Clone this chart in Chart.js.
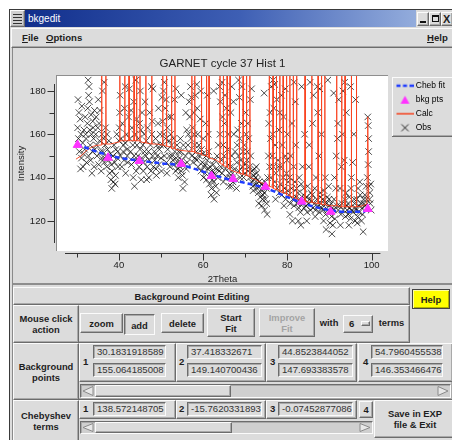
<!DOCTYPE html>
<html>
<head>
<meta charset="utf-8">
<script src="https://cdn.jsdelivr.net/npm/chart.js@4"></script>
<style>
  html, body { margin: 0; padding: 0; }
  body { width: 452px; height: 440px; overflow: hidden; position: relative; background: #fff;
         font-family: "Liberation Sans", Arial, sans-serif; color: #1e1e1e; }
  .abs { position: absolute; box-sizing: border-box; }
  .r { position: absolute; box-sizing: border-box; border: 1px solid; border-color: #fbfbfb #6c6c6c #6c6c6c #fbfbfb;
       box-shadow: inset -1px -1px #a9a9a9; }
  .s { position: absolute; box-sizing: border-box; border: 1px solid; border-color: #6c6c6c #fbfbfb #fbfbfb #6c6c6c;
       box-shadow: inset 1px 1px #a9a9a9; }
  .b { font-weight: bold; font-size: 9.4px; display: flex; align-items: center; justify-content: center;
       text-align: center; line-height: 11px; }
  .ent { font-size: 9.6px; line-height: 12px; padding-left: 3px; white-space: nowrap; overflow: hidden; color: #333; }
  .num { position: absolute; font-weight: bold; font-size: 9.6px; }
  .trough { background: #cfcfcf; }
</style>
</head>
<body>
<!-- window frame -->
<div class="abs" style="left:9px;top:9px;width:443px;height:431px;background:#dcdcdc;border-left:1px solid #3a3a3a;border-top:1px solid #3a3a3a;"></div>
<div class="abs" style="left:12px;top:48px;width:1px;height:392px;background:#8a8a8a;"></div>

<!-- title bar -->
<div class="abs" style="left:25px;top:10px;width:391px;height:17px;background:linear-gradient(to right,#112f8c,#3e5fb4 55%,#93acdc);"></div>
<div class="r" style="left:10px;top:10px;width:15px;height:17px;background:#cfcfcf;">
  <div class="abs" style="left:2px;top:3px;width:9px;height:1px;background:#333;"></div>
  <div class="abs" style="left:2px;top:6px;width:9px;height:1px;background:#333;"></div>
  <div class="abs" style="left:2px;top:9px;width:9px;height:1px;background:#333;"></div>
  <div class="abs" style="left:2px;top:12px;width:9px;height:1px;background:#333;"></div>
</div>
<div class="abs" style="left:28px;top:10px;height:17px;line-height:17px;color:#fff;font-size:10px;">bkgedit</div>
<div class="abs" style="left:416px;top:10px;width:40px;height:17px;background:#dcdcdc;"></div>
<div class="r" style="left:417px;top:12px;width:12px;height:14px;background:#dcdcdc;"><div class="abs" style="left:2px;top:8px;width:6px;height:2px;background:#111;"></div></div>
<div class="r" style="left:429px;top:12px;width:12px;height:14px;background:#dcdcdc;"><div class="abs" style="left:2px;top:2px;width:7px;height:7px;border:1px solid #111;border-top-width:2px;"></div></div>
<div class="r" style="left:441px;top:12px;width:12px;height:14px;background:#dcdcdc;font-size:11px;font-weight:bold;line-height:12px;padding-left:1px;">X</div>

<!-- menu bar -->
<div class="r" style="left:11px;top:28px;width:445px;height:20px;background:#dcdcdc;"></div>
<div class="abs" style="left:22px;top:32px;font-size:9.6px;font-weight:bold;"><u>F</u>ile</div>
<div class="abs" style="left:46px;top:32px;font-size:9.6px;font-weight:bold;"><u>O</u>ptions</div>
<div class="abs" style="left:427px;top:32px;font-size:9.6px;font-weight:bold;"><u>H</u>elp</div>

<!-- chart -->
<canvas id="plot" class="abs" style="left:10px;top:48px;width:460px;height:240px;"></canvas>

<!-- lower panel -->
<div class="abs" style="left:13px;top:283px;width:440px;height:157px;background:#dcdcdc;border-top:2px solid #8d8d8d;"></div>
<div class="r" style="left:13px;top:287px;width:397px;height:18px;"></div>
<div class="abs b" style="left:100px;top:289px;width:184px;height:15px;">Background Point Editing</div>
<div class="abs b" style="left:412px;top:289px;width:38px;height:20px;background:#ffff00;border:1px solid #444;box-shadow:inset 1px 1px #ffffa0, inset -1px -1px #b0b000;">Help</div>

<div class="r" style="left:13px;top:305px;width:397px;height:38px;"></div>
<div class="r b" style="left:13px;top:305px;width:66px;height:38px;">Mouse click<br>action</div>
<div class="r b" style="left:80px;top:313px;width:43px;height:20px;">zoom</div>
<div class="s b" style="left:124px;top:314px;width:31px;height:21px;padding-top:2px;">add</div>
<div class="r b" style="left:161px;top:313px;width:43px;height:20px;">delete</div>
<div class="r b" style="left:207px;top:308px;width:48px;height:29px;">Start<br>Fit</div>
<div class="r b" style="left:259px;top:308px;width:56px;height:29px;color:#a4a4a4;">Improve<br>Fit</div>
<div class="abs b" style="left:318px;top:315px;width:22px;height:15px;">with</div>
<div class="r" style="left:343px;top:315px;width:30px;height:18px;"></div>
<div class="abs" style="left:349px;top:318px;font-size:9.6px;font-weight:bold;">6</div>
<div class="r" style="left:361px;top:321px;width:9px;height:5px;"></div>
<div class="abs b" style="left:376px;top:315px;width:31px;height:15px;">terms</div>

<div class="r" style="left:13px;top:343px;width:440px;height:57px;"></div>
<div class="r b" style="left:13px;top:343px;width:66px;height:57px;">Background<br>points</div>
<div class="r" style="left:79px;top:343px;width:97px;height:39px;"></div>
<div class="r" style="left:176px;top:343px;width:90px;height:39px;"></div>
<div class="r" style="left:266px;top:343px;width:91px;height:39px;"></div>
<div class="r" style="left:358px;top:343px;width:95px;height:39px;"></div>
<div class="num" style="left:83px;top:356px;">1</div>
<div class="num" style="left:179px;top:356px;">2</div>
<div class="num" style="left:270px;top:356px;">3</div>
<div class="num" style="left:363px;top:356px;">4</div>
<div class="s ent" style="left:93px;top:345px;width:73px;height:14px;">30.1831918589</div>
<div class="s ent" style="left:93px;top:363px;width:73px;height:14px;">155.064185008</div>
<div class="s ent" style="left:187px;top:345px;width:75px;height:14px;">37.418332671</div>
<div class="s ent" style="left:187px;top:363px;width:75px;height:14px;">149.140700436</div>
<div class="s ent" style="left:278px;top:345px;width:75px;height:14px;">44.8523844052</div>
<div class="s ent" style="left:278px;top:363px;width:75px;height:14px;">147.693383578</div>
<div class="s ent" style="left:371px;top:345px;width:72px;height:14px;">54.7960455538</div>
<div class="s ent" style="left:371px;top:363px;width:72px;height:14px;">146.353466476</div>
<div class="s trough" style="left:80px;top:384px;width:371px;height:14px;"></div>
<svg class="abs" style="left:82px;top:386px;" width="12" height="10"><polygon points="1,5 11,0.5 11,9.5" fill="#e8e8e8" stroke="#8a8a8a"/></svg>
<div class="r" style="left:95px;top:385px;width:136px;height:12px;background:#dcdcdc;"></div>
<svg class="abs" style="left:437px;top:386px;" width="12" height="10"><polygon points="11,5 1,0.5 1,9.5" fill="#e8e8e8" stroke="#8a8a8a"/></svg>

<div class="r b" style="left:13px;top:400px;width:66px;height:42px;">Chebyshev<br>terms</div>
<div class="r" style="left:79px;top:400px;width:97px;height:19px;"></div>
<div class="r" style="left:176px;top:400px;width:90px;height:19px;"></div>
<div class="r" style="left:266px;top:400px;width:91px;height:19px;"></div>
<div class="r b" style="left:359px;top:401px;width:14px;height:17px;">4</div>
<div class="num" style="left:83px;top:403px;">1</div>
<div class="num" style="left:179px;top:403px;">2</div>
<div class="num" style="left:270px;top:403px;">3</div>
<div class="s ent" style="left:93px;top:402px;width:73px;height:14px;">138.572148705</div>
<div class="s ent" style="left:187px;top:402px;width:75px;height:14px;">-15.7620331893</div>
<div class="s ent" style="left:278px;top:402px;width:75px;height:14px;">-0.07452877086</div>
<div class="r b" style="left:374px;top:400px;width:82px;height:38px;">Save in EXP<br>file &amp; Exit</div>
<div class="s trough" style="left:80px;top:421px;width:293px;height:13px;"></div>
<svg class="abs" style="left:82px;top:423px;" width="12" height="9"><polygon points="1,4.5 11,0.5 11,8.5" fill="#e8e8e8" stroke="#8a8a8a"/></svg>
<div class="r" style="left:95px;top:422px;width:137px;height:11px;background:#dcdcdc;"></div>
<svg class="abs" style="left:359px;top:423px;" width="12" height="9"><polygon points="11,4.5 1,0.5 1,8.5" fill="#e8e8e8" stroke="#8a8a8a"/></svg>

<script>
// axis ticks
const xTicks = [30, 40, 50, 60, 70, 80, 90, 100];
const xTickLabels = ['', '40', '', '60', '', '80', '', '100'];
const yTicks = [120, 130, 140, 150, 160, 170, 180];
const yTickLabels = ['120', '', '140', '', '160', '', '180'];
const seriesNames = ['Cheb fit', 'bkg pts', 'Calc', 'Obs'];

// background points (first four as typed in the entries)
const bkgX = [30.1831918589, 37.418332671, 44.8523844052, 54.7960455538, 62.0, 67.1, 74.8, 83.4, 90.3, 99.1];
const bkgY = [155.064185008, 149.140700436, 147.693383578, 146.353466476, 140.7, 139.4, 135.8, 128.9, 124.2, 125.5];

// Chebyshev fit curve
const chebFit = [
  [30, 155.5], [33, 153.2], [36, 151.2], [40, 149.2], [45, 147.8], [50, 146.6], [55, 145.6],
  [58, 144], [62, 141.5], [66, 139.2], [70, 137.5], [75, 135], [80, 131], [85, 127.3],
  [90, 125], [94, 124.2], [98.5, 124.3]
];

// calculated pattern (peaks run off the top of the plot)
const calc = [
  [29.8,148.5],[31,150],[32,152],[33,153.5],[34,154.5],[35.2,155],
  [35.85,155],[35.9,200],[35.95,155.5],[36.85,155.5],[36.9,200],[36.95,155.5],
  [38,155.5],[39,156],[40.15,156.5],[40.2,200],[40.25,157],[41.35,157],[41.4,200],[41.45,157],
  [42.35,157],[42.4,200],[42.45,157],[43.55,157],[43.6,200],[43.65,157],[44.15,157],[44.2,200],[44.25,157],
  [44.95,157],[45.0,200],[45.05,156.5],[46.35,156],[46.4,200],[46.45,156],[47.75,155.5],[47.8,200],[47.85,155.5],
  [49,155.5],[50.35,155],[50.4,200],[50.45,155],[51.25,154.5],[51.3,200],[51.35,154.5],
  [52.45,154],[52.5,200],[52.55,153.5],[53.25,153.5],[53.3,200],[53.35,153],
  [55,152.5],[57.25,152],[57.3,200],[57.35,152],[57.95,152],[58.0,200],[58.05,151.5],
  [59.55,151],[59.6,200],[59.65,150.5],[60.75,150],[60.8,200],[60.85,150],[61.35,149.5],[61.4,200],[61.45,149],
  [62.5,148.5],[63.2,148],[63.95,147],[64.0,200],[64.05,146.5],[64.75,146],[64.8,200],[64.85,145.5],
  [65.65,145],[65.7,200],[65.75,144.5],[66.35,144],[66.4,200],[66.45,143.5],
  [68.55,142],[68.6,200],[68.65,142],[69.45,141.5],[69.5,200],[69.55,141.5],[70.25,141],[70.3,200],[70.35,141],
  [71.05,140.5],[71.1,200],[71.15,140],[72.5,139],[74,137.5],[75.65,136],[75.7,200],[75.75,136],
  [76.55,135.5],[76.6,200],[76.65,135],[77.35,134.5],[77.4,200],[77.45,134.5],[78.15,134],[78.2,200],[78.25,133.5],
  [78.95,133],[79.0,200],[79.05,133],[79.75,132.5],[79.8,200],[79.85,132],[80.55,131.5],[80.6,200],[80.65,131.5],
  [81.35,131],[81.4,200],[81.45,130.5],[82.15,130],[82.2,200],[82.25,130],
  [83.5,129.5],[84.15,129],[84.2,200],[84.25,129],[85.75,128.5],[85.8,200],[85.85,128.5],
  [87.25,128],[87.3,200],[87.35,128],[88.05,128],[88.1,200],[88.15,127.5],[88.85,127.5],[88.9,200],[88.95,127.5],
  [90,127],[91.65,127],[91.7,200],[91.75,127],[92.85,126.5],[92.9,200],[92.95,126.5],
  [93.65,126.5],[93.7,200],[93.75,126.5],[95.15,126.5],[95.2,200],[95.25,126.5],
  [96.35,126.5],[96.4,200],[96.45,126.5],[98,127],[98.9,128],[99.1,168],[99.3,131],[99.6,129]
];

// observed counts
const obs = [
  [30.2,163],[30.4,158],[30.5,170],[30.6,152],[30.8,167],[31,160],[31.1,149],[31.2,173],[31.4,156],[31.5,145],
  [31.7,162],[31.9,153],[32,168],[32.2,158],[32.3,147],[32.5,165],[30.3,176],[30.9,144],[31.6,151],[32.1,160],
  [32.6,172],[32.7,185],[32.8,178],[32.9,182],[33,175],[33.1,162],[33.2,155],[33.3,148],[33.4,169],[33.5,160],
  [33.7,152],[33.8,166],[34,158],[34.1,145],[34.2,171],[33.6,142],[32.8,150],[33.9,163],
  [34.3,153],[34.5,160],[34.6,168],[34.8,150],[35,163],[35.1,176],[35.2,146],[35.4,157],[35.5,171],[35.7,152],
  [35.8,143],[36,160],[36.1,180],[35.3,165],[34.7,155],[35.9,149],
  [36.2,152],[36.4,158],[36.5,147],[36.7,155],[36.8,163],[37,150],[37.1,145],[37.3,153],[37.5,148],[37.6,157],
  [37.8,142],[38,151],[38.1,139],[38.2,146],[37.2,160],[36.6,149],
  [38.3,135],[38.4,143],[38.6,150],[38.7,138],[38.8,155],[39,147],[39.2,141],[39.3,153],[39.5,160],[39.6,149],
  [39.8,145],[40,157],[40.1,163],[40.2,170],[39.1,137],[39.7,152],
  [40.3,178],[40.4,150],[40.5,158],[40.7,145],[40.8,165],[41,152],[41.2,148],[41.3,172],[41.5,156],[41.6,142],
  [41.8,160],[42,150],[42.1,147],[42.3,168],[41.1,155],[41.9,153],
  [42.5,181],[42.6,158],[42.8,152],[43,146],[43.1,163],[43.3,155],[43.5,175],[43.6,150],[43.8,160],[44,148],
  [44.1,143],[44.2,167],[43.4,140],[42.9,171],[43.7,136],[44.3,155],
  [44.5,150],[44.6,158],[44.8,145],[45,153],[45.1,180],[45.2,162],[45.4,149],[45.5,170],[45.7,155],[45.8,143],
  [46,160],[46.1,152],[44.9,165],[45.3,139],[45.9,147],[46.2,175],
  [46.4,150],[46.5,157],[46.7,145],[46.8,163],[47,152],[47.2,148],[47.3,170],[47.5,155],[47.6,143],[47.8,160],
  [48,150],[48.1,181],[47.1,140],[47.9,166],[46.6,139],[48.2,145],
  [48.4,152],[48.5,148],[48.7,158],[48.8,144],[49,155],[49.1,150],[49.3,165],[49.5,146],[49.6,153],[49.8,160],
  [50,149],[50.1,143],[50.2,177],[49.4,172],[48.9,141],[49.9,155],
  [50.4,166],[50.5,155],[50.7,160],[50.8,150],[51,172],[51.1,158],[51.3,147],[51.5,163],[51.6,153],[51.8,168],
  [52,150],[52.1,145],[50.6,180],[51.2,176],[51.9,157],[51.4,142],
  [52.3,160],[52.5,155],[52.6,150],[52.8,148],[53,158],[53.1,146],[53.3,152],[53.5,143],[53.6,149],[53.8,155],
  [54,147],[54.1,140],[52.4,168],[53.2,176],[53.9,144],[54.2,152],
  [54.4,149],[54.5,145],[54.7,152],[54.8,143],[55,148],[55.1,141],[55.3,155],[55.5,146],[55.6,138],[55.8,150],
  [56,144],[56.1,162],[55.2,135],[54.6,158],[55.9,170],[56.2,147],
  [56.4,155],[56.5,160],[56.7,175],[56.8,168],[57,182],[57.1,158],[57.3,150],[57.5,163],[57.6,147],[57.8,170],
  [58,155],[58.1,149],[57.2,177],[56.6,152],[57.9,160],[58.2,178],
  [58.4,152],[58.5,148],[58.7,160],[58.8,145],[59,155],[59.1,150],[59.3,167],[59.5,143],[59.6,153],[59.8,147],
  [60,158],[60.1,140],[58.6,172],[59.4,180],[59.9,151],[60.2,145],
  [60.4,146],[60.5,142],[60.7,150],[60.8,139],[61,148],[61.1,144],[61.3,152],[61.5,137],[61.6,145],[61.8,141],
  [62,135],[62.1,143],[60.6,165],[61.2,160],[61.9,132],[62.2,139],
  [62.4,146],[62.5,138],[62.7,142],[62.8,148],[63,136],[63.1,144],[63.3,150],[63.5,140],[63.6,155],[63.8,143],
  [64,160],[64.1,175],[62.6,130],[63.2,133],[63.9,182],[64.2,145],
  [64.4,148],[64.5,142],[64.7,155],[64.8,138],[65,150],[65.1,165],[65.3,144],[65.5,172],[65.6,140],[65.8,153],
  [66,146],[66.1,136],[64.6,168],[65.2,178],[65.9,160],[66.2,142],
  [66.4,140],[66.5,145],[66.7,136],[66.8,150],[67,142],[67.1,138],[67.3,160],[67.5,144],[67.6,152],[67.8,139],
  [68,147],[68.1,155],[66.6,170],[67.2,175],[67.9,135],[68.2,162],
  [68.4,150],[68.5,143],[68.7,158],[68.8,140],[69,148],[69.1,165],[69.3,145],[69.5,152],[69.6,140],[69.8,155],
  [70,146],[70.1,170],[68.6,177],[69.2,182],[69.9,142],[70.2,160],
  [70.4,148],[70.5,152],[70.7,143],[70.8,158],[71,145],[71.1,140],[71.3,150],[71.5,138],[71.6,143],[71.8,136],
  [72,141],[72.1,139],[70.6,165],[71.2,176],[71.9,134],[72.2,144],
  [72.4,140],[72.5,137],[72.7,142],[72.8,135],[73,139],[73.1,133],[73.3,138],[73.5,136],[73.6,131],[73.8,137],
  [74,134],[74.1,130],[72.6,145],[73.2,128],[73.9,127],[74.2,132],
  [74.4,136],[74.5,133],[74.7,138],[74.8,130],[75,135],[75.1,128],[75.3,140],[75.5,150],[75.6,165],[75.8,145],
  [76,158],[76.1,140],[74.6,125],[75.2,123],[75.9,170],[76.2,182],
  [76.4,150],[76.5,160],[76.7,145],[76.8,172],[77,138],[77.1,155],[77.3,142],[77.5,176],[77.6,135],[77.8,148],
  [78,162],[78.1,133],[76.6,185],[77.2,130],[77.9,145],[78.2,170],
  [78.4,137],[78.5,145],[78.7,132],[78.8,155],[79,140],[79.1,168],[79.3,135],[79.5,150],[79.6,130],[79.8,142],
  [80,160],[80.1,134],[78.6,178],[79.2,127],[79.9,148],[80.2,138],
  [80.4,132],[80.5,140],[80.7,128],[80.8,150],[81,135],[81.1,165],[81.3,130],[81.5,145],[81.6,127],[81.8,138],
  [82,155],[82.1,131],[80.6,123],[81.2,120],[81.9,175],[82.2,135],
  [82.4,128],[82.5,133],[82.7,126],[82.8,140],[83,130],[83.1,124],[83.3,137],[83.5,128],[83.6,145],[83.8,132],
  [84,126],[84.1,160],[82.6,120],[83.2,118],[83.9,135],[84.2,130],
  [84.4,127],[84.5,131],[84.7,124],[84.8,136],[85,128],[85.1,145],[85.3,130],[85.5,125],[85.6,133],[85.8,129],
  [86,165],[86.1,126],[84.6,120],[85.2,155],[85.9,132],[86.2,178],
  [86.4,128],[86.5,135],[86.7,125],[86.8,140],[87,130],[87.1,182],[87.3,127],[87.5,150],[87.6,124],[87.8,133],
  [88,128],[88.1,160],[86.6,122],[87.2,170],[87.9,131],[88.2,126],
  [88.4,130],[88.5,125],[88.7,134],[88.8,128],[89,140],[89.1,123],[89.3,128],[89.5,131],[89.6,125],[89.8,136],
  [90,127],[90.1,119],[88.6,120],[89.2,116],[89.9,130],[90.2,124],
  [90.4,128],[90.5,122],[90.7,126],[90.8,118],[91,125],[91.1,130],[91.3,121],[91.5,135],[91.6,150],[91.8,127],
  [92,165],[92.1,125],[90.6,114],[91.2,140],[91.9,158],[92.2,176],
  [92.4,127],[92.5,135],[92.7,123],[92.8,145],[93,128],[93.1,160],[93.3,125],[93.5,148],[93.6,130],[93.8,122],
  [94,170],[94.1,127],[92.6,118],[93.2,180],[93.9,133],[94.2,125],
  [94.4,128],[94.5,123],[94.7,131],[94.8,126],[95,121],[95.1,135],[95.3,125],[95.5,147],[95.6,124],[95.8,160],
  [96,128],[96.1,120],[94.6,118],[95.2,140],[95.9,130],[96.2,126],
  [96.4,125],[96.5,130],[96.7,122],[96.8,135],[97,127],[97.1,124],[97.3,132],[97.5,128],[97.6,120],[97.8,126],
  [98,115],[98.1,130],[96.6,119],[97.2,138],[97.9,123],[98.2,128],
  [98.4,132],[98.5,127],[98.7,136],[98.8,130],[99,140],[99.1,168],[99.2,164],[99.3,158],[99.3,152],[99.2,146],
  [99.4,136],[99.5,130],[99.6,133],[99.7,128],[99.8,137],[99.9,125],
  [36.5,184],[41.5,182],[44,185],[47.7,182],[50.8,184],[53.5,181],[54.8,178],[58.5,183],[61,178],[62.5,180],
  [64.5,184],[66.8,182],[68.4,185],[71.5,181],[74.5,179],[77,183],[79.5,181],[81.6,184],[83.4,182],[85.4,184],
  [87.7,181],[89.6,185],[91,179],[93.6,184],[95,182],[96.2,176]
];

const pts = arr => arr.map(p => ({ x: p[0], y: p[1] }));

// little legend symbols
function icon(draw) {
  const c = document.createElement('canvas');
  c.width = 22; c.height = 12;
  draw(c.getContext('2d'));
  return c;
}
const legendIcons = [
  icon(g => { g.strokeStyle = '#1f3cff'; g.lineWidth = 2.5; g.setLineDash([4, 2.5]); g.beginPath(); g.moveTo(5, 6); g.lineTo(22, 6); g.stroke(); }),
  icon(g => { g.fillStyle = '#ff33ff'; g.beginPath(); g.moveTo(13.5, 2); g.lineTo(18, 10); g.lineTo(9, 10); g.closePath(); g.fill(); }),
  icon(g => { g.strokeStyle = '#f5411c'; g.lineWidth = 1.5; g.beginPath(); g.moveTo(5, 6); g.lineTo(22, 6); g.stroke(); }),
  icon(g => { g.strokeStyle = '#222'; g.lineWidth = 1; g.beginPath(); g.moveTo(10, 2.5); g.lineTo(17, 9.5); g.moveTo(17, 2.5); g.lineTo(10, 9.5); g.stroke(); })
];

const plotFrame = {
  id: 'plotFrame',
  beforeDraw(chart) {
    const { ctx, chartArea: a, legend } = chart;
    ctx.save();
    ctx.fillStyle = '#fff';
    ctx.fillRect(a.left, a.top, a.right - a.left, a.bottom - a.top);
    ctx.fillStyle = '#8e8e8e';
    ctx.fillRect(a.left - 1, a.top - 1, a.right - a.left + 1, 1);
    ctx.fillRect(a.left - 1, a.top - 1, 1, a.bottom - a.top + 1);
    // legend box
    const lx = legend.left + 4, ly = a.top + 1, lw = chart.width - lx, lh = 60;
    ctx.fillStyle = '#fbfbfb';
    ctx.fillRect(lx, ly, lw, 1); ctx.fillRect(lx, ly, 1, lh);
    ctx.fillStyle = '#6c6c6c';
    ctx.fillRect(lx, ly + lh - 1, lw, 1);
    ctx.fillStyle = '#a9a9a9';
    ctx.fillRect(lx + 1, ly + lh - 2, lw, 1);
    ctx.restore();
  }
};

const axisLines = {
  id: 'axisLines',
  afterDraw(chart) {
    const { ctx, chartArea: a, scales: { x, y } } = chart;
    ctx.save();
    ctx.strokeStyle = '#333';
    ctx.lineWidth = 1;
    ctx.beginPath();
    const yb = Math.round(a.bottom + 2) + 0.5;
    ctx.moveTo(x.getPixelForValue(27.2), yb); ctx.lineTo(x.getPixelForValue(102.1), yb);
    x.ticks.forEach(t => {
      const px = Math.round(x.getPixelForValue(t.value)) + 0.5;
      ctx.moveTo(px, yb); ctx.lineTo(px, yb + (t.value % 20 === 0 ? 7 : 4));
    });
    const xl = Math.round(a.left - 2) - 0.5;
    ctx.moveTo(xl, y.getPixelForValue(183.2)); ctx.lineTo(xl, y.getPixelForValue(109.8));
    y.ticks.forEach(t => {
      const py = Math.round(y.getPixelForValue(t.value)) + 0.5;
      ctx.moveTo(xl, py); ctx.lineTo(xl - (t.value % 20 === 0 ? 7 : 5), py);
    });
    ctx.stroke();
    ctx.restore();
  }
};

const font = { family: "'Liberation Sans', Arial, sans-serif", size: 9.5 };

const chart = new Chart(document.getElementById('plot'), {
  type: 'scatter',
  data: {
    datasets: [
      {
        label: seriesNames[1],
        data: bkgX.map((v, i) => ({ x: v, y: bkgY[i] })),
        pointStyle: 'triangle',
        pointRadius: 5,
        backgroundColor: '#ff33ff',
        borderColor: '#ff33ff',
        borderWidth: 1,
        order: 0
      },
      {
        label: seriesNames[0],
        data: pts(chebFit),
        showLine: true,
        borderColor: '#1f3cff',
        borderWidth: 2.5,
        borderDash: [5, 3],
        cubicInterpolationMode: 'monotone',
        pointRadius: 0,
        order: 1
      },
      {
        label: seriesNames[2],
        data: pts(calc),
        showLine: true,
        borderColor: '#f8401c',
        borderWidth: 0.9,
        pointRadius: 0,
        order: 2
      },
      {
        label: seriesNames[3],
        data: pts(obs),
        pointStyle: 'crossRot',
        pointRadius: 4.6,
        borderColor: 'rgba(0,0,0,0.7)',
        borderWidth: 1,
        order: 3
      }
    ]
  },
  options: {
    responsive: false,
    animation: false,
    events: [],
    layout: { padding: { left: 0, top: 0, right: 20, bottom: 0 } },
    plugins: {
      tooltip: { enabled: false },
      title: {
        display: true,
        text: 'GARNET cycle 37 Hist 1',
        fullSize: false,
        color: '#222',
        font: { family: font.family, size: 11.5, weight: 'normal' },
        padding: { top: 8.9, bottom: 5.3 }
      },
      legend: {
        position: 'right',
        align: 'start',
        fullSize: false,
        labels: {
          usePointStyle: true,
          pointStyleWidth: 18,
          boxHeight: 8.5,
          padding: 5.5,
          color: '#222',
          font: { family: font.family, size: 8.5 },
          generateLabels: () => seriesNames.map((t, i) => ({
            text: t, pointStyle: legendIcons[i], fillStyle: 'transparent',
            strokeStyle: 'transparent', lineWidth: 0, hidden: false, datasetIndex: i
          }))
        }
      }
    },
    scales: {
      x: {
        type: 'linear',
        min: 25.3,
        max: 103.9,
        afterBuildTicks: s => { s.ticks = xTicks.map(v => ({ value: v })); },
        afterFit: s => { s.height = 37; },
        border: { display: false },
        grid: { display: false, drawTicks: false },
        ticks: {
          padding: 9,
          color: '#222',
          font: font,
          maxRotation: 0,
          autoSkip: false,
          callback: v => xTickLabels[xTicks.indexOf(v)] ?? ''
        },
        title: { display: true, text: '2Theta', color: '#222', font: font, padding: { top: 0, bottom: 3.3 } }
      },
      y: {
        type: 'linear',
        min: 106.1,
        max: 186.9,
        afterBuildTicks: s => { s.ticks = yTicks.map(v => ({ value: v })); },
        afterFit: s => { s.width = 47; },
        border: { display: false },
        grid: { display: false, drawTicks: false },
        ticks: {
          padding: 11.3,
          color: '#222',
          font: font,
          autoSkip: false,
          callback: v => yTickLabels[yTicks.indexOf(v)] ?? ''
        },
        title: { display: true, text: 'Intensity', color: '#222', font: font, padding: { top: 5.8, bottom: 0 } }
      }
    }
  },
  plugins: [plotFrame, axisLines]
});

// keep the plot's right edge where the reference has it
const dr = chart.chartArea.right - 378;
if (Math.abs(dr) > 0.1) {
  chart.options.layout.padding.right += dr;
  chart.update();
}
</script>
</body>
</html>
